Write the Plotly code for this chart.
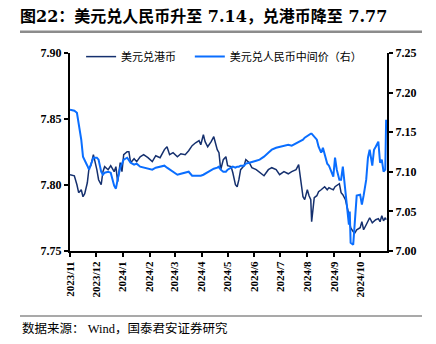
import plotly.graph_objects as go

# Observation dates (2023-11 to 2024-10)
dates = [
    "2023-11-01", "2023-11-06", "2023-11-09", "2023-11-11", "2023-11-14", "2023-11-16",
    "2023-11-18", "2023-11-21", "2023-11-23", "2023-11-25", "2023-11-28", "2023-11-30",
    "2023-12-02", "2023-12-04", "2023-12-07", "2023-12-09", "2023-12-11", "2023-12-15",
    "2023-12-18", "2023-12-22", "2023-12-24", "2023-12-26", "2023-12-29", "2023-12-31",
    "2024-01-02", "2024-01-06", "2024-01-08", "2024-01-10", "2024-01-14", "2024-01-17",
    "2024-01-21", "2024-01-25", "2024-01-30", "2024-02-04", "2024-02-08", "2024-02-13",
    "2024-02-18", "2024-02-21", "2024-02-24", "2024-02-28", "2024-03-04", "2024-03-08",
    "2024-03-13", "2024-03-17", "2024-03-21", "2024-03-25", "2024-03-29", "2024-03-31",
    "2024-04-03", "2024-04-05", "2024-04-08", "2024-04-12", "2024-04-15", "2024-04-19",
    "2024-04-21", "2024-04-23", "2024-04-26", "2024-04-29", "2024-05-01", "2024-05-05",
    "2024-05-07", "2024-05-10", "2024-05-12", "2024-05-14", "2024-05-16", "2024-05-20",
    "2024-05-22", "2024-05-26", "2024-05-29", "2024-06-03", "2024-06-07", "2024-06-12",
    "2024-06-17", "2024-06-21", "2024-06-26", "2024-06-30", "2024-07-05", "2024-07-10",
    "2024-07-14", "2024-07-19", "2024-07-22", "2024-07-25", "2024-07-27", "2024-07-29",
    "2024-08-01", "2024-08-03", "2024-08-05", "2024-08-06", "2024-08-09", "2024-08-12",
    "2024-08-14", "2024-08-17", "2024-08-19", "2024-08-21", "2024-08-24", "2024-08-26",
    "2024-08-28", "2024-08-31", "2024-09-02", "2024-09-04", "2024-09-07", "2024-09-09",
    "2024-09-11", "2024-09-14", "2024-09-16", "2024-09-18", "2024-09-19", "2024-09-20",
    "2024-09-23", "2024-09-25", "2024-09-27", "2024-10-01", "2024-10-03", "2024-10-05",
    "2024-10-08", "2024-10-10", "2024-10-12", "2024-10-15", "2024-10-17", "2024-10-19",
    "2024-10-22", "2024-10-24", "2024-10-26", "2024-10-28", "2024-10-30", "2024-10-31",
]

# USD/HKD (left axis)
usd_hkd = [
    7.8078, 7.8070, 7.8002, 7.7942, 7.7964, 7.7911,
    7.7934, 7.8017, 7.8131, 7.8146, 7.8230, 7.8177,
    7.8116, 7.8040, 7.8002, 7.8101, 7.8139, 7.8116,
    7.8146, 7.8101, 7.8139, 7.8025, 7.8169, 7.8101,
    7.8230, 7.8252, 7.8252, 7.8169, 7.8199, 7.8177,
    7.8214, 7.8230, 7.8207, 7.8177, 7.8222, 7.8207,
    7.8268, 7.8290, 7.8230, 7.8245, 7.8214, 7.8237,
    7.8230, 7.8260, 7.8298, 7.8320, 7.8336, 7.8305,
    7.8381, 7.8328, 7.8290, 7.8328, 7.8366, 7.8268,
    7.8245, 7.8116, 7.8192, 7.8214, 7.8146, 7.8139,
    7.8093, 7.8002, 7.7987, 7.8040, 7.8116, 7.8146,
    7.8192, 7.8169, 7.8131, 7.8116, 7.8093, 7.8070,
    7.8116, 7.8131, 7.8116, 7.8078, 7.8101, 7.8085,
    7.8101, 7.8116, 7.8154, 7.8002, 7.7911, 7.7889,
    7.7964, 7.7919, 7.7889, 7.7722, 7.7904, 7.7919,
    7.7949, 7.7964, 7.7980, 7.7987, 7.7964, 7.7980,
    7.7972, 7.7964, 7.7987, 7.7995, 7.8010, 7.7942,
    7.7926, 7.7889, 7.7836, 7.7775, 7.7714, 7.7677,
    7.7646, 7.7639, 7.7661, 7.7677, 7.7722, 7.7661,
    7.7699, 7.7722, 7.7752, 7.7714, 7.7729, 7.7737,
    7.7745, 7.7722, 7.7767, 7.7729, 7.7752, 7.7737,
]

# USD/CNY central parity (right axis)
usd_cny = [
    7.1784, 7.1771, 7.1746, 7.1620, 7.1405, 7.1191,
    7.1153, 7.1077, 7.1027, 7.1090, 7.1178, 7.1178,
    7.1178, 7.1153, 7.1001, 7.0963, 7.0989, 7.1001,
    7.0989, 7.0825, 7.0787, 7.0901, 7.1052, 7.1103,
    7.1153, 7.1178, 7.1153, 7.1115, 7.1090, 7.1103,
    7.1065, 7.1052, 7.1039, 7.1027, 7.1052, 7.1065,
    7.1077, 7.1052, 7.1027, 7.1001, 7.0963, 7.0976,
    7.0989, 7.1001, 7.0951, 7.0951, 7.0951, 7.0951,
    7.0963, 7.0976, 7.1001, 7.1027, 7.1039, 7.1052,
    7.1065, 7.1027, 7.1001, 7.1001, 7.1027, 7.1052,
    7.1065, 7.1052, 7.1065, 7.1065, 7.1077, 7.1077,
    7.1103, 7.1115, 7.1128, 7.1140, 7.1153, 7.1191,
    7.1241, 7.1279, 7.1304, 7.1317, 7.1330, 7.1342,
    7.1330, 7.1355, 7.1380, 7.1393, 7.1405, 7.1431,
    7.1456, 7.1469, 7.1481, 7.1481, 7.1443, 7.1405,
    7.1317, 7.1241, 7.1304, 7.1216, 7.1102, 7.1077,
    7.1027, 7.0938, 7.1178, 7.1027, 7.0901, 7.0901,
    7.1065, 7.0775, 7.0585, 7.0333, 7.0497, 7.0105,
    7.0080, 7.0459, 7.0699, 7.0711, 7.0585, 7.0699,
    7.0901, 7.1178, 7.1279, 7.1077, 7.1279, 7.1317,
    7.1380, 7.1115, 7.1153, 7.1001, 7.1027, 7.1658,
]

series_names = ["美元兑港币", "美元兑人民币中间价（右）"]
month_ticks = [
    "2023-11-01", "2023-12-01", "2024-01-01", "2024-02-01", "2024-03-01", "2024-04-01",
    "2024-05-01", "2024-06-01", "2024-07-01", "2024-08-01", "2024-09-01", "2024-10-01",
]
month_labels = [
    "2023/11", "2023/12", "2024/1", "2024/2", "2024/3", "2024/4",
    "2024/5", "2024/6", "2024/7", "2024/8", "2024/9", "2024/10",
]

title_text = "<b>图22：美元兑人民币升至 7.14，兑港币降至 7.77</b>"
source_text = "数据来源： Wind，国泰君安证券研究"

MIXED = "Liberation Serif, Noto Sans CJK SC, serif"
TITLE_FONT = "DejaVu Serif, Noto Sans CJK SC, serif"
NAVY = "#15306e"
BLUE = "#0a6eff"

fig = go.Figure()
fig.add_trace(go.Scatter(
    x=dates, y=usd_hkd, name=series_names[0], mode="lines",
    line=dict(color=NAVY, width=1.5), yaxis="y", legend="legend",
))
fig.add_trace(go.Scatter(
    x=dates, y=usd_cny, name=series_names[1], mode="lines",
    line=dict(color=BLUE, width=2), yaxis="y2", legend="legend2",
))

tick_font = dict(family="Liberation Serif, serif", size=12, color="#000", weight="bold")
legend_style = dict(
    orientation="h", y=1.055, xanchor="left", yanchor="top",
    bgcolor="rgba(0,0,0,0)", font=dict(family=MIXED, size=11, color="#000"),
)

fig.update_layout(
    width=436, height=344,
    margin=dict(l=70, r=49, t=53, b=93),
    paper_bgcolor="white", plot_bgcolor="white",
    showlegend=True,
    legend=dict(x=0.035, **legend_style),
    legend2=dict(x=0.378, **legend_style),
    title=dict(
        text=title_text, x=20 / 436, xanchor="left", xref="container",
        y=1 - 16 / 344, yanchor="middle", yref="container",
        font=dict(family=TITLE_FONT, size=16, color="#000"),
    ),
    xaxis=dict(
        type="date", range=["2023-11-01", "2024-11-01"],
        tickvals=month_ticks, ticktext=month_labels, tickangle=-90,
        tickfont=dict(family="Liberation Serif, serif", size=11, color="#000", weight="bold"),
        showgrid=False, zeroline=False,
        showline=True, linecolor="#000", linewidth=2,
        ticks="outside", ticklen=4, tickwidth=2, tickcolor="#000",
    ),
    yaxis=dict(
        range=[7.75, 7.90], dtick=0.05, tick0=7.75, tickformat=".2f",
        tickfont=tick_font, showgrid=False, zeroline=False,
        showline=True, linecolor="#000", linewidth=2,
        ticks="outside", ticklen=4, tickwidth=2, tickcolor="#000",
    ),
    yaxis2=dict(
        range=[7.00, 7.25], dtick=0.05, tick0=7.00, tickformat=".2f",
        overlaying="y", side="right",
        tickfont=tick_font, showgrid=False, zeroline=False,
        showline=True, linecolor="#000", linewidth=2,
        ticks="outside", ticklen=4, tickwidth=2, tickcolor="#000",
    ),
    shapes=[
        dict(type="line", xref="paper", yref="paper",
             x0=-50 / 317, x1=352 / 317, y0=219.3 / 198, y1=219.3 / 198,
             line=dict(color="#8c8c8c", width=2.5)),
        dict(type="line", xref="paper", yref="paper",
             x0=-50 / 317, x1=352 / 317, y0=-65 / 198, y1=-65 / 198,
             line=dict(color="#8c8c8c", width=1.5)),
    ],
    annotations=[
        dict(text=source_text, xref="paper", yref="paper",
             x=-50 / 317, y=-77 / 198, xanchor="left", yanchor="middle",
             showarrow=False, font=dict(family=MIXED, size=12.5, color="#000")),
    ],
)

fig.write_html("out.html")
